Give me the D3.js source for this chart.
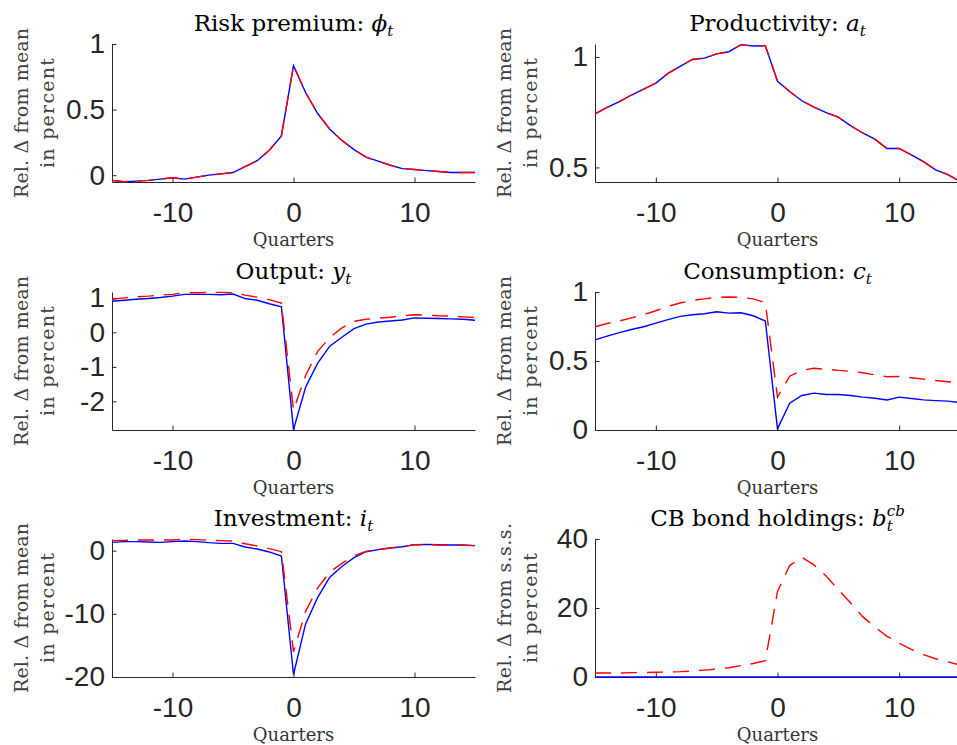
<!DOCTYPE html>
<html>
<head>
<meta charset="utf-8">
<script src="https://cdn.jsdelivr.net/npm/d3@7/dist/d3.min.js"></script>
<style>
  body { margin: 0; background: #fff; }
  text { white-space: pre; }
</style>
</head>
<body>
<svg id="fig" width="957" height="745"></svg>
<script>
// quarters relative to the shock, -15 .. 15
const quarters = d3.range(-15, 16)
const xTicks = [-10, 0, 10]

// blue = without QE, red (dashed) = with QE
const riskPremiumBase = [-0.04,-0.05,-0.045,-0.04,-0.03,-0.02,-0.03,-0.015,0.0,0.01,0.02,0.065,0.11,0.19,0.30,0.835,0.63,0.47,0.35,0.265,0.195,0.137,0.107,0.076,0.05,0.043,0.035,0.028,0.02,0.02,0.02]
const riskPremiumQE   = [-0.04,-0.05,-0.045,-0.04,-0.03,-0.02,-0.03,-0.015,0.0,0.01,0.02,0.065,0.11,0.19,0.30,0.835,0.63,0.47,0.35,0.265,0.195,0.137,0.107,0.076,0.05,0.043,0.035,0.028,0.02,0.02,0.02]

const productivityBase = [0.743,0.772,0.798,0.828,0.855,0.882,0.926,0.958,0.989,0.995,1.014,1.024,1.056,1.05,1.051,0.89,0.844,0.802,0.773,0.748,0.728,0.689,0.656,0.628,0.586,0.586,0.557,0.526,0.489,0.467,0.437]
const productivityQE   = [0.743,0.772,0.798,0.828,0.855,0.882,0.926,0.958,0.989,0.995,1.014,1.024,1.056,1.05,1.051,0.89,0.844,0.802,0.773,0.748,0.728,0.689,0.656,0.628,0.586,0.586,0.557,0.526,0.489,0.467,0.437]

const outputBase = [0.90,0.93,0.96,0.98,1.01,1.05,1.10,1.10,1.10,1.09,1.11,0.98,0.93,0.83,0.74,-2.82,-1.59,-0.89,-0.40,-0.14,0.11,0.24,0.30,0.33,0.36,0.42,0.41,0.40,0.39,0.38,0.35]
const outputQE   = [0.96,1.00,1.03,1.05,1.08,1.10,1.15,1.15,1.16,1.16,1.15,1.08,1.02,0.95,0.85,-2.25,-1.25,-0.55,-0.15,0.13,0.32,0.38,0.41,0.44,0.48,0.51,0.50,0.48,0.47,0.45,0.43]

const consumptionBase = [0.653,0.68,0.706,0.728,0.748,0.774,0.80,0.823,0.835,0.842,0.857,0.847,0.85,0.828,0.79,0.008,0.194,0.25,0.267,0.257,0.257,0.25,0.238,0.23,0.218,0.238,0.228,0.218,0.213,0.209,0.199]
const consumptionQE   = [0.748,0.772,0.79,0.813,0.835,0.864,0.896,0.92,0.94,0.95,0.961,0.964,0.961,0.95,0.922,0.238,0.39,0.432,0.447,0.44,0.432,0.425,0.415,0.40,0.386,0.388,0.379,0.369,0.359,0.35,0.34]

const investmentBase = [1.32,1.43,1.43,1.38,1.32,1.43,1.53,1.43,1.27,1.16,1.16,0.58,0.26,-0.2,-0.85,-19.6,-11.6,-7.4,-4.2,-2.5,-1.1,-0.16,0.16,0.42,0.63,0.95,1.0,0.95,0.9,0.9,0.8]
const investmentQE   = [1.6,1.64,1.7,1.7,1.7,1.7,1.8,1.75,1.64,1.6,1.53,1.1,0.74,0.32,-0.16,-16.0,-9.6,-5.9,-3.4,-2.0,-0.8,-0.1,0.2,0.42,0.63,0.95,0.95,0.9,0.9,0.85,0.8]

const bondsBase = [0,0,0,0,0,0,0,0,0,0,0,0,0,0,0,0,0,0,0,0,0,0,0,0,0,0,0,0,0,0,0]
const bondsQE   = [1.16,1.16,1.16,1.26,1.26,1.36,1.45,1.55,1.74,2.0,2.3,2.7,3.3,3.9,4.7,24.8,32.3,34.7,32.5,29.3,25.3,21.5,17.5,14.5,11.8,9.8,8.0,6.5,5.3,4.4,3.5]

// title pieces: [text, kind] kind: '' normal, 'i' italic, 'sub', 'sup'
const panels = [
  { title: [['Risk premium: ',''],['\u03d5','i'],['t','sub']], ylab: 'Rel. \u0394 from mean', base: riskPremiumBase, qe: riskPremiumQE, ylim: [-0.052, 1], yticks: [0, 0.5, 1] },
  { title: [['Productivity: ',''],['a','i'],['t','sub']], ylab: 'Rel. \u0394 from mean', base: productivityBase, qe: productivityQE, ylim: [0.434, 1.059], yticks: [0.5, 1] },
  { title: [['Output: ',''],['y','i'],['t','sub']], ylab: 'Rel. \u0394 from mean', base: outputBase, qe: outputQE, ylim: [-2.83, 1.17], yticks: [-2, -1, 0, 1] },
  { title: [['Consumption: ',''],['c','i'],['t','sub']], ylab: 'Rel. \u0394 from mean', base: consumptionBase, qe: consumptionQE, ylim: [0, 1], yticks: [0, 0.5, 1] },
  { title: [['Investment: ',''],['i','i'],['t','sub']], ylab: 'Rel. \u0394 from mean', base: investmentBase, qe: investmentQE, ylim: [-20, 1.85], yticks: [-20, -10, 0] },
  { title: [['CB bond holdings: ',''],['b','i'],['t','sub'],['cb','sup']], ylab: 'Rel. \u0394 from s.s.s.', base: bondsBase, qe: bondsQE, ylim: [0, 40], yticks: [0, 20, 40] }
]

const colLeft = [112, 595]
const colWidth = [363, 365]
const rowTop = [44, 292, 539]
const plotH = 138
const serif = 'DejaVu Serif'
const sans = 'Liberation Sans, Arial, sans-serif'

const svg = d3.select('#fig')

panels.forEach(function (p, i) {
  let col = i % 2, row = Math.floor(i / 2)
  let left = colLeft[col], top = rowTop[row], w = colWidth[col]
  let x = d3.scaleLinear().domain([-15, 15]).range([left, left + w])
  let y = d3.scaleLinear().domain(p.ylim).range([top + plotH, top])
  let g = svg.append('g')

  // axes (MATLAB style, ticks inside)
  let xa = g.append('g')
    .attr('transform', 'translate(0,' + (top + plotH) + ')')
    .call(d3.axisBottom(x).tickValues(xTicks).tickSize(-4.5).tickSizeOuter(0).tickPadding(20).tickFormat(d => String(d)))
  let ya = g.append('g')
    .attr('transform', 'translate(' + left + ',0)')
    .call(d3.axisLeft(y).tickValues(p.yticks).tickSize(-4.5).tickSizeOuter(0).tickPadding(7).tickFormat(d => String(d)))
  ;[xa, ya].forEach(a => {
    a.select('.domain').attr('stroke', '#262626').attr('stroke-width', 1)
    a.selectAll('.tick line').attr('stroke', '#262626')
    a.selectAll('.tick text').attr('fill', '#262626').style('font-family', sans).style('font-size', '28px')
  })

  // lines
  let line = d3.line().x((d, k) => x(quarters[k])).y(d => y(d))
  g.append('path').datum(p.base)
    .attr('d', line).attr('fill', 'none').attr('stroke', '#0000ff').attr('stroke-width', 1.4)
  g.append('path').datum(p.qe)
    .attr('d', line).attr('fill', 'none').attr('stroke', '#ff0000').attr('stroke-width', 1.4)
    .attr('stroke-dasharray', '16,10')

  // title
  let t = g.append('text')
    .attr('x', left + w / 2).attr('y', top - 13)
    .attr('text-anchor', 'middle')
    .style('font-family', serif).style('font-size', '23px').attr('fill', '#000')
  p.title.forEach(function (piece) {
    let s = t.append('tspan').text(piece[0])
    if (piece[1] === 'i') s.style('font-style', 'italic')
    if (piece[1] === 'sub') s.style('font-style', 'italic').style('font-size', '15px').attr('dy', 5)
    if (piece[1] === 'sup') s.style('font-style', 'italic').style('font-size', '15px').attr('dx', -6).attr('dy', -15)
  })

  // y label, two lines
  let cy = top + plotH / 2
  g.append('text')
    .attr('transform', 'translate(' + (left - 84) + ',' + cy + ') rotate(-90)')
    .attr('text-anchor', 'middle')
    .attr('textLength', 170).attr('lengthAdjust', 'spacing')
    .style('font-family', serif).style('font-size', '19px').attr('fill', '#404040')
    .text(p.ylab)
  g.append('text')
    .attr('transform', 'translate(' + (left - 58) + ',' + cy + ') rotate(-90)')
    .attr('text-anchor', 'middle')
    .attr('textLength', 110).attr('lengthAdjust', 'spacing')
    .style('font-family', serif).style('font-size', '19px').attr('fill', '#404040')
    .text('in percent')

  // x label
  g.append('text')
    .attr('x', left + w / 2).attr('y', top + plotH + 64)
    .attr('text-anchor', 'middle')
    .style('font-family', serif).style('font-size', '18px').attr('fill', '#333')
    .text('Quarters')
})
</script>
</body>
</html>
